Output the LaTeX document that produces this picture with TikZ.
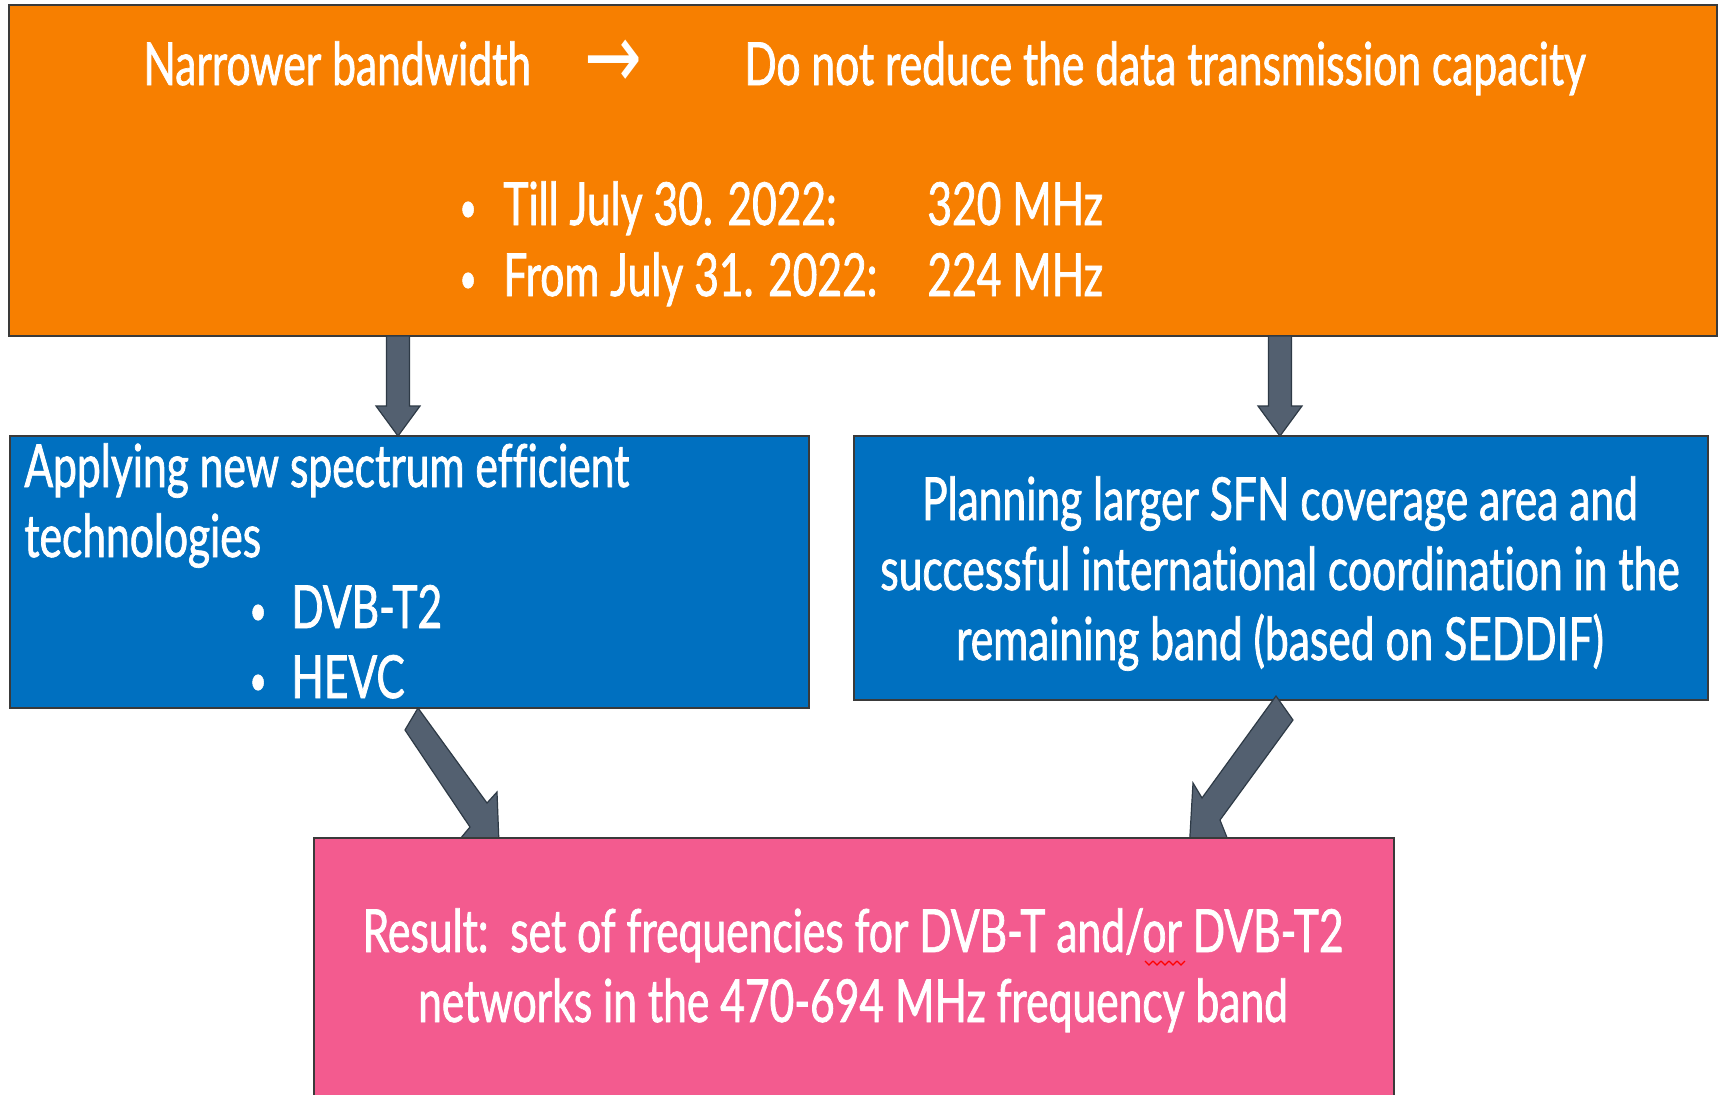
\documentclass[tikz,border=0pt]{standalone}
\usepackage{fontspec}
\setmainfont{Lato}[FakeStretch=0.716, FakeBold=1.2, Ligatures={NoCommon}]
\newfontfamily\arrowfont{DejaVu Sans}[FakeStretch=0.75]
\usetikzlibrary{fit,calc}
\definecolor{corange}{HTML}{F77F00}
\definecolor{cblue}{HTML}{0070C0}
\definecolor{cpink}{HTML}{F35B8F}
\definecolor{carrow}{HTML}{536070}
\definecolor{carrowline}{HTML}{2E3A46}
\definecolor{cborder}{HTML}{3A3A3A}
\newcommand\fatdown[2]{\draw[fat] ($(#1)+(-11.5,0)$) -- ($(#2)+(-11.5,-30)$) -- ($(#2)+(-22,-30)$) -- (#2) -- ($(#2)+(22,-30)$) -- ($(#2)+(11.5,-30)$) -- ($(#1)+(11.5,0)$) -- cycle;}
\newcommand\smbul{{\fontsize{21}{21}\selectfont •}}
\begin{document}
\begin{tikzpicture}[x=0.5pt,y=-0.5pt,
  box/.style={draw=cborder, line width=0.8pt, inner sep=0pt},
  txt/.style={text=white, font=\fontsize{29.7}{35}\selectfont, inner sep=0pt},
  fat/.style={fill=carrow, draw=carrowline, line width=0.6pt, line join=miter}]
\clip (0,0) rectangle (1721,1094);
\fill[white] (0,0) rectangle (1721,1094);
% boxes
\node[box, fill=corange, fit={(9,5) (1717,336)}] (top) {};
\node[box, fill=cblue, fit={(10,436) (809,708)}] (left) {};
\node[box, fill=cblue, fit={(854,436) (1708,700)}] (right) {};
% down arrows
\coordinate (d1s) at (398,336);
\coordinate (d1e) at (398,436);
\coordinate (d2s) at (1280,336);
\coordinate (d2e) at (1280,436);
\fatdown{d1s}{d1e}
\fatdown{d2s}{d2e}
% diagonal arrows
\coordinate (g1s) at (411.5,719);
\coordinate (g1e) at (500,870);
\coordinate (g2s) at (1284.5,708);
\coordinate (g2e) at (1188,870);
\draw[fat] ($(g1s)+(-6.5,11)$) -- ($(g1s)+(6.5,-11)$) -- ($(g1s)+(75.5,84)$) -- ($(g1s)+(85.5,73)$) -- (g1e) -- ($(g1e)+(-45,-25)$) -- ($(g1s)+(58.5,108)$) -- cycle;
\draw[fat] ($(g2s)+(-8.5,-12)$) -- ($(g2s)+(8.5,12)$) -- ($(g2s)+(-64.5,112)$) -- ($(g2e)+(42,-25)$) -- (g2e) -- ($(g2s)+(-91.5,75)$) -- ($(g2s)+(-82.5,90)$) -- cycle;
% result box
\node[box, fill=cpink, fit={(314,838) (1394,1130)}] (res) {};
% top texts
\node[txt, anchor=base west] (t1) at (143,85) {Narrower bandwidth};
\node[txt, anchor=center, font=\fontsize{46}{46}\selectfont] (tarr) at (613,64) {\arrowfont →};
\node[txt, anchor=base west] (t2) at (744,85) {Do not reduce the data transmission capacity};
\node[txt, anchor=base west] (bu1) at (459,222) {\smbul};
\node[txt, anchor=base west] (b1) at (503,225) {Till July 30. 2022:};
\node[txt, anchor=base west] (m1) at (927,225) {320 MHz};
\node[txt, anchor=base west] (bu2) at (459,293) {\smbul};
\node[txt, anchor=base west] (b2) at (503,296) {From July 31. 2022:};
\node[txt, anchor=base west] (m2) at (927,296) {224 MHz};
% left blue texts
\node[txt, anchor=base west] (l1) at (24,487) {Applying new spectrum efficient};
\node[txt, anchor=base west] (l2) at (24,557) {technologies};
\node[txt, anchor=base west] (lb1) at (249,625) {\smbul};
\node[txt, anchor=base west] (l3) at (291,628) {DVB-T2};
\node[txt, anchor=base west] (lb2) at (249,695) {\smbul};
\node[txt, anchor=base west] (l4) at (291,698) {HEVC};
% right blue texts
\node[txt, anchor=base] (r1) at (1280,520) {Planning larger SFN coverage area and};
\node[txt, anchor=base] (r2) at (1280,590) {successful international coordination in the};
\node[txt, anchor=base] (r3) at (1280,660) {remaining band (based on SEDDIF)};
% result texts
\node[txt, anchor=base] (p1) at (853,952) {Result:\ \ set of frequencies for DVB-T and/or DVB-T2};
\node[txt, anchor=base] (p2) at (853,1022) {networks in the 470-694 MHz frequency band};
% spell-check squiggle
\foreach \i in {0,...,4} {\draw[red, line width=0.6pt] (1145+8*\i,961) -- ++(4,4) -- ++(4,-4);}
\end{tikzpicture}
\end{document}
